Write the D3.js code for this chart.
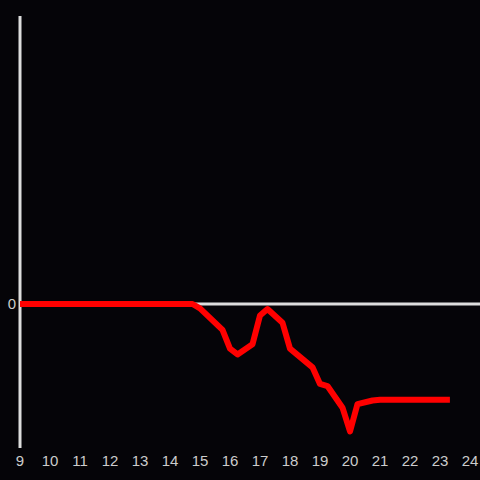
<!doctype html>
<html lang="en">
<head>
<meta charset="UTF-8">
<title>Chart</title>
<script src="https://d3js.org/d3.v7.min.js"></script>
<style>
  html, body { margin: 0; padding: 0; background: #050408; }
  text { font-family: "Liberation Sans", Arial, sans-serif; }
</style>
</head>
<body>
<div id="chart"></div>
<script>
  // Data
  const hours = [9, 14.75, 15, 15.75, 16, 16.25, 16.75, 17, 17.25, 17.75, 18, 18.75, 19, 19.25, 19.75, 20, 20.25, 20.75, 21, 23.33];
  const values = [0, 0, -0.03, -0.18, -0.31, -0.35, -0.28, -0.08, -0.035, -0.13, -0.31, -0.44, -0.555, -0.57, -0.72, -0.885, -0.695, -0.67, -0.665, -0.665];
  const xTicks = [9, 10, 11, 12, 13, 14, 15, 16, 17, 18, 19, 20, 21, 22, 23, 24];
  const yTicks = [0];

  const dataset = hours.map((h, i) => ({ hour: h, value: values[i] }));

  const dimensions = {
    width: 480,
    height: 480,
    left: 20,
    right: 10,
    top: 16,
    bottom: 32
  };

  const svg = d3.select('#chart')
    .append('svg')
    .attr('width', dimensions.width)
    .attr('height', dimensions.height)
    .style('display', 'block')
    .style('background', '#050408');

  const xScale = d3.scaleLinear()
    .domain([9, 24])
    .range([dimensions.left, dimensions.width - dimensions.right]);

  const yScale = d3.scaleLinear()
    .domain([-1, 2])
    .range([dimensions.height - dimensions.bottom, dimensions.top]);

  // y axis line
  svg.append('line')
    .attr('x1', xScale(9))
    .attr('x2', xScale(9))
    .attr('y1', yScale(2))
    .attr('y2', yScale(-1))
    .attr('stroke', '#dddddd')
    .attr('stroke-width', 3);

  // zero line
  svg.append('line')
    .attr('x1', xScale(9))
    .attr('x2', dimensions.width)
    .attr('y1', yScale(0))
    .attr('y2', yScale(0))
    .attr('stroke', '#dddddd')
    .attr('stroke-width', 3);

  svg.selectAll('.ylabel')
    .data(yTicks)
    .join('text')
    .attr('class', 'ylabel')
    .attr('x', xScale(9) - 4)
    .attr('y', d => yScale(d))
    .attr('dy', '0.35em')
    .attr('text-anchor', 'end')
    .attr('fill', '#cccccc')
    .style('font-size', '15px')
    .text(d => d);

  svg.selectAll('.xlabel')
    .data(xTicks)
    .join('text')
    .attr('class', 'xlabel')
    .attr('x', d => xScale(d))
    .attr('y', 466)
    .attr('text-anchor', 'middle')
    .attr('fill', '#cccccc')
    .style('font-size', '15px')
    .text(d => d);

  const lineGenerator = d3.line()
    .x(d => xScale(d.hour))
    .y(d => yScale(d.value));

  svg.append('path')
    .datum(dataset)
    .attr('d', lineGenerator)
    .attr('fill', 'none')
    .attr('stroke', '#ff0000')
    .attr('stroke-width', 6)
    .attr('stroke-linejoin', 'round');
</script>
</body>
</html>
